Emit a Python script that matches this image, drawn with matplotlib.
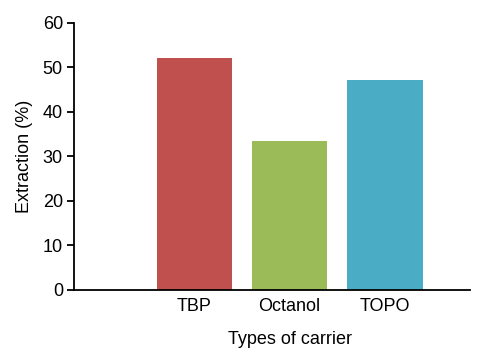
import numpy as np
import matplotlib
matplotlib.use("Agg")
import matplotlib.pyplot as plt

plt.rcParams['font.family'] = ['Liberation Sans', 'DejaVu Sans']

carriers = ['TBP', 'Octanol', 'TOPO']
extraction = [52.1, 33.4, 47.2]
colors = ['#C0504D', '#9BBB59', '#4BACC6']

fig = plt.figure(figsize=(4.95, 3.51), dpi=100)
ax = fig.add_axes([0.1495, 0.174, 0.80, 0.761])

x = np.arange(len(carriers))
ax.bar(x, extraction, width=0.79, color=colors)

ax.set_xlim(-1.26, 2.89)
ax.set_ylim(0, 60)
ax.set_yticks(range(0, 61, 10))
ax.set_xticks(x)
ax.set_xticklabels(carriers)
ax.tick_params(axis='x', length=0, labelsize=13, pad=6)
ax.tick_params(axis='y', direction='out', length=5, width=1.3, labelsize=13, pad=3)
for s in ['top', 'right']:
    ax.spines[s].set_visible(False)
for s in ['left', 'bottom']:
    ax.spines[s].set_linewidth(1.3)

ax.set_ylabel('Extraction (%)', fontsize=13, labelpad=7)
ax.set_xlabel('Types of carrier', fontsize=13, labelpad=11)
# label sits under the middle bar, not the middle of the axis
ax.xaxis.label.set_x(0.545)

fig.savefig('out.png', dpi=100)
